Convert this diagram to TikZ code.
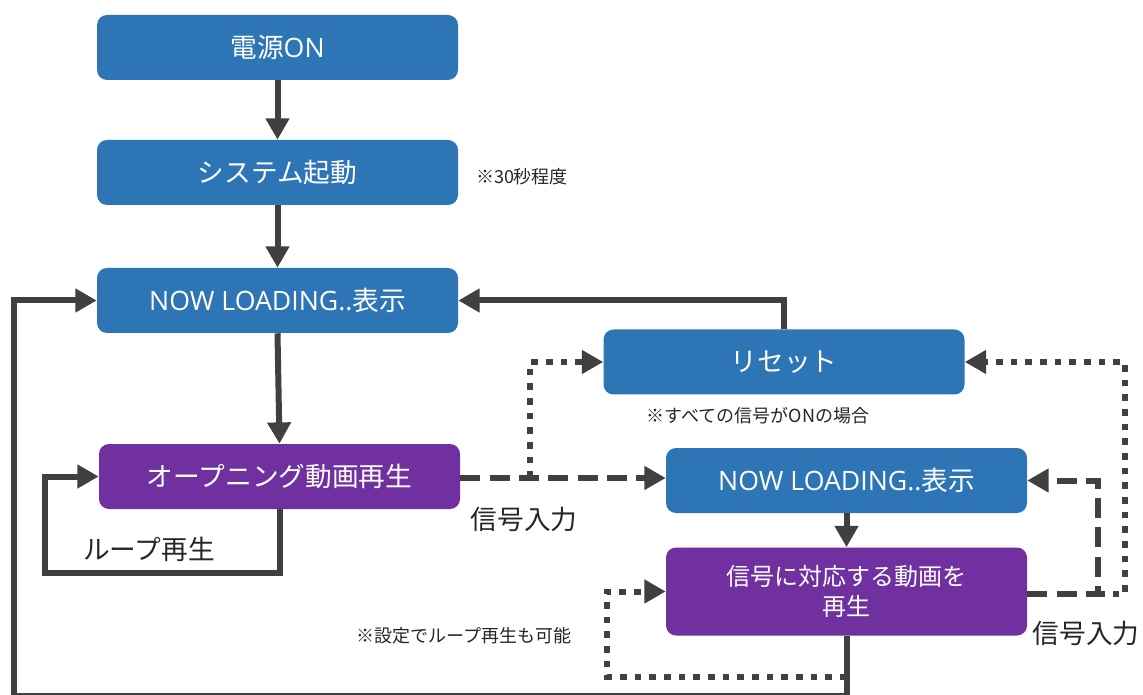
\documentclass[tikz,border=0pt]{standalone}
\usepackage{fontspec}
\setmainfont{Noto Sans CJK JP}
\newfontfamily\latfont{Open Sans}
\usetikzlibrary{arrows.meta}
\definecolor{myblue}{HTML}{2E75B6}
\definecolor{mypurple}{HTML}{7030A0}
\definecolor{arrowgray}{HTML}{404040}
\definecolor{labelgray}{HTML}{262626}
\tikzset{
  box/.style={rounded corners=7.5pt, minimum width=270.75pt, minimum height=48.75pt,
    inner sep=0pt, text=white, align=center, font=\fontsize{20}{24}\selectfont},
  bluebox/.style={box, fill=myblue},
  purplebox/.style={box, fill=mypurple},
  conn/.style={draw=arrowgray, line width=4.5pt, -{Triangle[length=16pt,width=17pt]}},
  dashedconn/.style={conn, dash pattern=on 15pt off 7pt},
  dottedconn/.style={conn, dash pattern=on 5pt off 6pt},
  biglbl/.style={text=labelgray, inner sep=0pt, font=\fontsize{20}{24}\selectfont},
  smalllbl/.style={text=labelgray, inner sep=0pt, font=\fontsize{13.5}{16}\selectfont},
}
\begin{document}
\begin{tikzpicture}[x=0.75pt,y=-0.75pt]
\fill[white] (0,0) rectangle (1143,695);
\useasboundingbox (0,0) rectangle (1143,695);

\node[bluebox] (pw) at (277.5,47.5) {電源{\latfont ON}};
\node[bluebox] (sys) at (277.5,172.5) {システム起動};
\node[bluebox] (now1) at (277.5,300.5) {{\latfont NOW LOADING..}表示};
\node[purplebox] (open) at (279.5,476.5) {オープニング動画再生};
\node[bluebox] (reset) at (784,362) {リセット};
\node[bluebox] (now2) at (846.5,480.5) {{\latfont NOW LOADING..}表示};
\node[purplebox, minimum height=66pt, font=\fontsize{18}{22.5}\selectfont] (vid) at (846.5,591.5) {信号に対応する動画を\\再生};

\node[smalllbl] (n30) at (522,177) {※30秒程度};
\node[smalllbl] (nall) at (758,416) {※すべての信号がONの場合};
\node[smalllbl] (nset) at (464,636) {※設定でループ再生も可能};
\node[biglbl] (sig1) at (524,519) {信号入力};
\node[biglbl] (loop) at (149,549) {ループ再生};
\node[biglbl] (sig2) at (1086,633) {信号入力};

\coordinate (sigA) at (530,478);
\coordinate (sigB) at (1098,594);
\coordinate (loopC) at (846.5,677);

\draw[conn] (pw) -- (sys);
\draw[conn] (sys) -- (now1);
\draw[conn] (now1.south) -- (open.north);
\draw[conn] (open.south) -- (279.5,573) -- (45,573) |- (open.west);
\draw[conn] (vid.south) -- (846.5,696.3) -- (14,696.3) |- (now1.west);
\draw[conn] (reset.north) |- (now1.east);
\draw[dashedconn] (open.east |- sigA) -- (now2.west |- sigA);
\draw[dottedconn] (sigA) |- (reset.west);
\draw[conn] (now2) -- (vid);
\draw[dashedconn] (vid.east |- sigB) -- (sigB) |- (now2.east);
\draw[dottedconn] (sigB) -- (1125,594) |- (reset.east);
\draw[dottedconn] (loopC) -- (607,677) |- (vid.west);
\end{tikzpicture}
\end{document}
